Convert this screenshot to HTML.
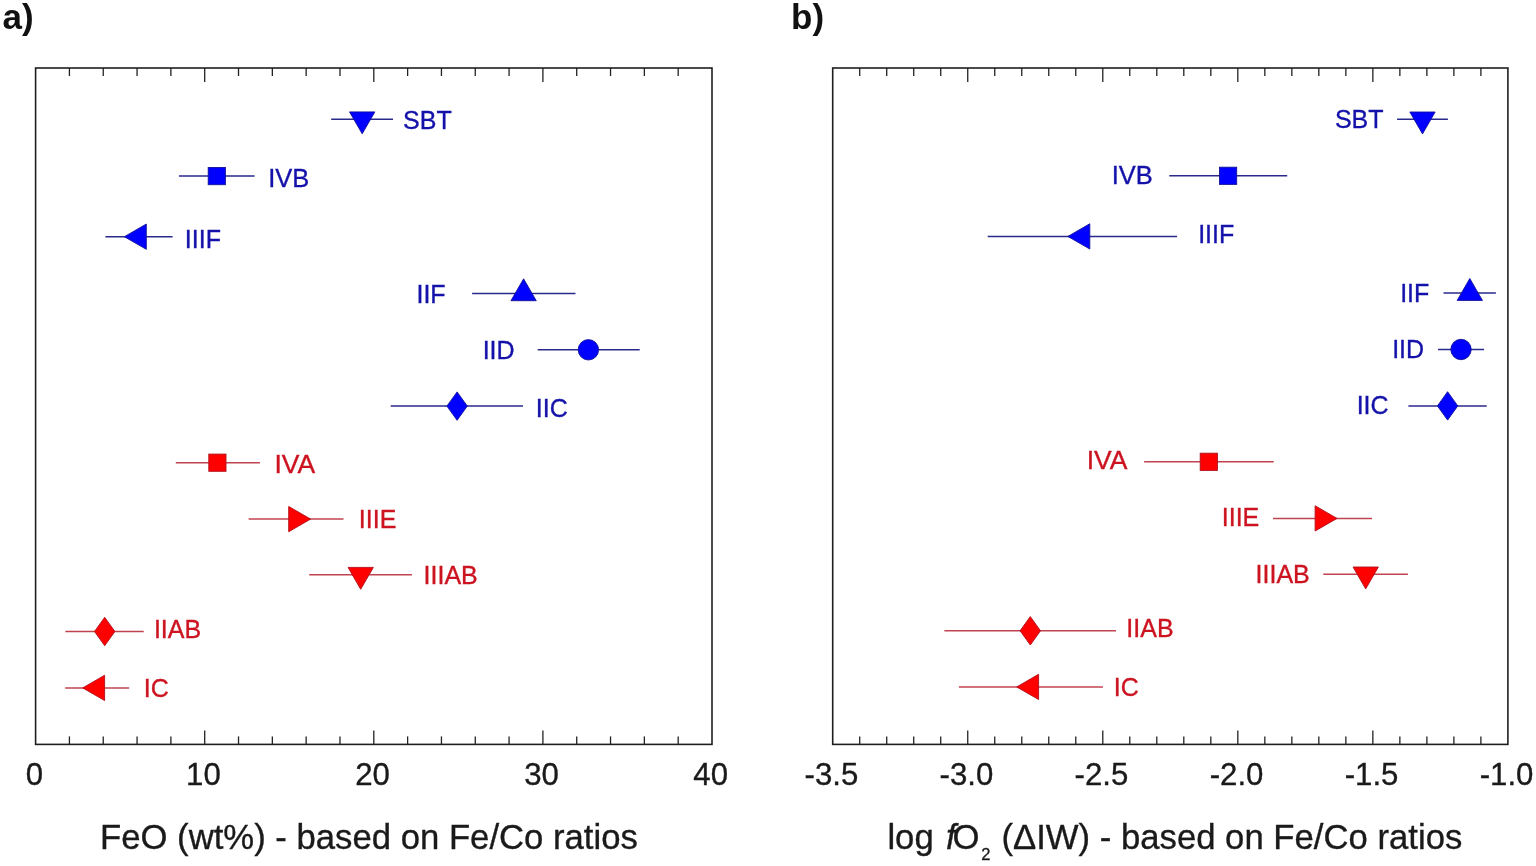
<!DOCTYPE html>
<html><head><meta charset="utf-8"><title>FeO and log fO2 based on Fe/Co ratios</title>
<style>
html,body{margin:0;padding:0;background:#fff;}
body{width:1536px;height:866px;overflow:hidden;}
svg{display:block;}
text{font-family:"Liberation Sans",Arial,Helvetica,sans-serif;}
.lb{font-size:25px;stroke-width:0.35px;}
.tk{font-size:31.2px;fill:#1a1a1a;stroke:#1a1a1a;stroke-width:0.35px;text-anchor:middle;}
.ti{font-size:34.7px;fill:#1a1a1a;stroke:#1a1a1a;stroke-width:0.35px;text-anchor:middle;}
.tl{font-size:34.7px;fill:#1a1a1a;stroke:#1a1a1a;stroke-width:0.35px;}
.sub{font-size:16.5px;fill:#1a1a1a;stroke:#1a1a1a;stroke-width:0.3px;}
.pl{font-size:35px;font-weight:bold;fill:#111;}
</style></head><body>
<svg width="1536" height="866" viewBox="0 0 1536 866">
<g stroke="#222" stroke-width="1.3">
<rect x="35.6" y="68" width="676.4" height="676.4" fill="none" stroke="#1e1e1e" stroke-width="1.6"/>
<line x1="69.42" y1="68" x2="69.42" y2="76"/>
<line x1="69.42" y1="744.4" x2="69.42" y2="736.4"/>
<line x1="103.24" y1="68" x2="103.24" y2="76"/>
<line x1="103.24" y1="744.4" x2="103.24" y2="736.4"/>
<line x1="137.06" y1="68" x2="137.06" y2="76"/>
<line x1="137.06" y1="744.4" x2="137.06" y2="736.4"/>
<line x1="170.88" y1="68" x2="170.88" y2="76"/>
<line x1="170.88" y1="744.4" x2="170.88" y2="736.4"/>
<line x1="204.7" y1="68" x2="204.7" y2="82"/>
<line x1="204.7" y1="744.4" x2="204.7" y2="730.4"/>
<line x1="238.52" y1="68" x2="238.52" y2="76"/>
<line x1="238.52" y1="744.4" x2="238.52" y2="736.4"/>
<line x1="272.34" y1="68" x2="272.34" y2="76"/>
<line x1="272.34" y1="744.4" x2="272.34" y2="736.4"/>
<line x1="306.16" y1="68" x2="306.16" y2="76"/>
<line x1="306.16" y1="744.4" x2="306.16" y2="736.4"/>
<line x1="339.98" y1="68" x2="339.98" y2="76"/>
<line x1="339.98" y1="744.4" x2="339.98" y2="736.4"/>
<line x1="373.8" y1="68" x2="373.8" y2="82"/>
<line x1="373.8" y1="744.4" x2="373.8" y2="730.4"/>
<line x1="407.62" y1="68" x2="407.62" y2="76"/>
<line x1="407.62" y1="744.4" x2="407.62" y2="736.4"/>
<line x1="441.44" y1="68" x2="441.44" y2="76"/>
<line x1="441.44" y1="744.4" x2="441.44" y2="736.4"/>
<line x1="475.26" y1="68" x2="475.26" y2="76"/>
<line x1="475.26" y1="744.4" x2="475.26" y2="736.4"/>
<line x1="509.08" y1="68" x2="509.08" y2="76"/>
<line x1="509.08" y1="744.4" x2="509.08" y2="736.4"/>
<line x1="542.9" y1="68" x2="542.9" y2="82"/>
<line x1="542.9" y1="744.4" x2="542.9" y2="730.4"/>
<line x1="576.72" y1="68" x2="576.72" y2="76"/>
<line x1="576.72" y1="744.4" x2="576.72" y2="736.4"/>
<line x1="610.54" y1="68" x2="610.54" y2="76"/>
<line x1="610.54" y1="744.4" x2="610.54" y2="736.4"/>
<line x1="644.36" y1="68" x2="644.36" y2="76"/>
<line x1="644.36" y1="744.4" x2="644.36" y2="736.4"/>
<line x1="678.18" y1="68" x2="678.18" y2="76"/>
<line x1="678.18" y1="744.4" x2="678.18" y2="736.4"/>
<text transform="translate(34.3 785.3)" class="tk">0</text>
<text transform="translate(203.4 785.3)" class="tk">10</text>
<text transform="translate(372.5 785.3)" class="tk">20</text>
<text transform="translate(541.6 785.3)" class="tk">30</text>
<text transform="translate(710.7 785.3)" class="tk">40</text>
<rect x="832.7" y="68" width="675.2" height="676.4" fill="none" stroke="#1e1e1e" stroke-width="1.6"/>
<line x1="859.71" y1="68" x2="859.71" y2="76"/>
<line x1="859.71" y1="744.4" x2="859.71" y2="736.4"/>
<line x1="886.72" y1="68" x2="886.72" y2="76"/>
<line x1="886.72" y1="744.4" x2="886.72" y2="736.4"/>
<line x1="913.72" y1="68" x2="913.72" y2="76"/>
<line x1="913.72" y1="744.4" x2="913.72" y2="736.4"/>
<line x1="940.73" y1="68" x2="940.73" y2="76"/>
<line x1="940.73" y1="744.4" x2="940.73" y2="736.4"/>
<line x1="967.74" y1="68" x2="967.74" y2="82"/>
<line x1="967.74" y1="744.4" x2="967.74" y2="730.4"/>
<line x1="994.75" y1="68" x2="994.75" y2="76"/>
<line x1="994.75" y1="744.4" x2="994.75" y2="736.4"/>
<line x1="1021.76" y1="68" x2="1021.76" y2="76"/>
<line x1="1021.76" y1="744.4" x2="1021.76" y2="736.4"/>
<line x1="1048.76" y1="68" x2="1048.76" y2="76"/>
<line x1="1048.76" y1="744.4" x2="1048.76" y2="736.4"/>
<line x1="1075.77" y1="68" x2="1075.77" y2="76"/>
<line x1="1075.77" y1="744.4" x2="1075.77" y2="736.4"/>
<line x1="1102.78" y1="68" x2="1102.78" y2="82"/>
<line x1="1102.78" y1="744.4" x2="1102.78" y2="730.4"/>
<line x1="1129.79" y1="68" x2="1129.79" y2="76"/>
<line x1="1129.79" y1="744.4" x2="1129.79" y2="736.4"/>
<line x1="1156.8" y1="68" x2="1156.8" y2="76"/>
<line x1="1156.8" y1="744.4" x2="1156.8" y2="736.4"/>
<line x1="1183.8" y1="68" x2="1183.8" y2="76"/>
<line x1="1183.8" y1="744.4" x2="1183.8" y2="736.4"/>
<line x1="1210.81" y1="68" x2="1210.81" y2="76"/>
<line x1="1210.81" y1="744.4" x2="1210.81" y2="736.4"/>
<line x1="1237.82" y1="68" x2="1237.82" y2="82"/>
<line x1="1237.82" y1="744.4" x2="1237.82" y2="730.4"/>
<line x1="1264.83" y1="68" x2="1264.83" y2="76"/>
<line x1="1264.83" y1="744.4" x2="1264.83" y2="736.4"/>
<line x1="1291.84" y1="68" x2="1291.84" y2="76"/>
<line x1="1291.84" y1="744.4" x2="1291.84" y2="736.4"/>
<line x1="1318.84" y1="68" x2="1318.84" y2="76"/>
<line x1="1318.84" y1="744.4" x2="1318.84" y2="736.4"/>
<line x1="1345.85" y1="68" x2="1345.85" y2="76"/>
<line x1="1345.85" y1="744.4" x2="1345.85" y2="736.4"/>
<line x1="1372.86" y1="68" x2="1372.86" y2="82"/>
<line x1="1372.86" y1="744.4" x2="1372.86" y2="730.4"/>
<line x1="1399.87" y1="68" x2="1399.87" y2="76"/>
<line x1="1399.87" y1="744.4" x2="1399.87" y2="736.4"/>
<line x1="1426.88" y1="68" x2="1426.88" y2="76"/>
<line x1="1426.88" y1="744.4" x2="1426.88" y2="736.4"/>
<line x1="1453.88" y1="68" x2="1453.88" y2="76"/>
<line x1="1453.88" y1="744.4" x2="1453.88" y2="736.4"/>
<line x1="1480.89" y1="68" x2="1480.89" y2="76"/>
<line x1="1480.89" y1="744.4" x2="1480.89" y2="736.4"/>
<text transform="translate(831.4 785.3)" class="tk">-3.5</text>
<text transform="translate(966.44 785.3)" class="tk">-3.0</text>
<text transform="translate(1101.48 785.3)" class="tk">-2.5</text>
<text transform="translate(1236.52 785.3)" class="tk">-2.0</text>
<text transform="translate(1371.56 785.3)" class="tk">-1.5</text>
<text transform="translate(1506.6 785.3)" class="tk">-1.0</text>
</g>
<line x1="331.2" y1="119.2" x2="393" y2="119.2" stroke="#2a2a8c" stroke-width="1.5"/>
<polygon points="349.55,111.9 374.85,111.9 362.2,133.81" fill="#0000ff" stroke="#12129a" stroke-width="0.9"/>
<text x="403.05" y="129.2" fill="#1512aa" stroke="#1512aa" class="lb">SBT</text>
<line x1="178.9" y1="176.1" x2="254.6" y2="176.1" stroke="#2a2a8c" stroke-width="1.5"/>
<rect x="208.2" y="167.5" width="17.2" height="17.2" fill="#0000ff" stroke="#12129a" stroke-width="0.9"/>
<text transform="translate(268.15 186.8) scale(1.02 1)" fill="#1512aa" stroke="#1512aa" class="lb">IVB</text>
<line x1="105.4" y1="236.7" x2="172.6" y2="236.7" stroke="#2a2a8c" stroke-width="1.5"/>
<polygon points="146.3,224.05 146.3,249.35 124.39,236.7" fill="#0000ff" stroke="#12129a" stroke-width="0.9"/>
<text x="184.85" y="247.8" fill="#1512aa" stroke="#1512aa" class="lb">IIIF</text>
<line x1="472.1" y1="293.4" x2="575.5" y2="293.4" stroke="#2a2a8c" stroke-width="1.5"/>
<polygon points="510.95,300.7 536.25,300.7 523.6,278.79" fill="#0000ff" stroke="#12129a" stroke-width="0.9"/>
<text x="416.45" y="302.8" fill="#1512aa" stroke="#1512aa" class="lb">IIF</text>
<line x1="537.7" y1="349.8" x2="639.7" y2="349.8" stroke="#2a2a8c" stroke-width="1.5"/>
<circle cx="588.4" cy="349.8" r="10.2" fill="#0000ff" stroke="#12129a" stroke-width="0.9"/>
<text x="482.65" y="359.4" fill="#1512aa" stroke="#1512aa" class="lb">IID</text>
<line x1="390.7" y1="406.1" x2="523" y2="406.1" stroke="#2a2a8c" stroke-width="1.5"/>
<polygon points="446.9,406.1 457.1,391.9 467.3,406.1 457.1,420.3" fill="#0000ff" stroke="#12129a" stroke-width="0.9"/>
<text x="535.86" y="417.3" fill="#1512aa" stroke="#1512aa" class="lb">IIC</text>
<line x1="175.8" y1="462.7" x2="259.9" y2="462.7" stroke="#c04450" stroke-width="1.5"/>
<rect x="208.8" y="454.1" width="17.2" height="17.2" fill="#ff0000" stroke="#b0101c" stroke-width="0.9"/>
<text transform="translate(274.45 473) scale(1.06 1)" fill="#cc1420" stroke="#cc1420" class="lb">IVA</text>
<line x1="248.6" y1="519.1" x2="343.5" y2="519.1" stroke="#c04450" stroke-width="1.5"/>
<polygon points="288.7,506.45 288.7,531.75 310.61,519.1" fill="#ff0000" stroke="#b0101c" stroke-width="0.9"/>
<text x="358.85" y="527.8" fill="#cc1420" stroke="#cc1420" class="lb">IIIE</text>
<line x1="309.2" y1="574.7" x2="411.9" y2="574.7" stroke="#c04450" stroke-width="1.5"/>
<polygon points="348.05,567.4 373.35,567.4 360.7,589.31" fill="#ff0000" stroke="#b0101c" stroke-width="0.9"/>
<text x="423.55" y="584" fill="#cc1420" stroke="#cc1420" class="lb">IIIAB</text>
<line x1="65.4" y1="631.5" x2="143.75" y2="631.5" stroke="#c04450" stroke-width="1.5"/>
<polygon points="94.5,631.5 104.7,617.3 114.9,631.5 104.7,645.7" fill="#ff0000" stroke="#b0101c" stroke-width="0.9"/>
<text x="153.91" y="638.2" fill="#cc1420" stroke="#cc1420" class="lb">IIAB</text>
<line x1="65.2" y1="687.9" x2="129.2" y2="687.9" stroke="#c04450" stroke-width="1.5"/>
<polygon points="104.6,675.25 104.6,700.55 82.69,687.9" fill="#ff0000" stroke="#b0101c" stroke-width="0.9"/>
<text x="143.75" y="696.5" fill="#cc1420" stroke="#cc1420" class="lb">IC</text>
<line x1="1397.1" y1="119.3" x2="1447.9" y2="119.3" stroke="#2a2a8c" stroke-width="1.5"/>
<polygon points="1409.85,112 1435.15,112 1422.5,133.91" fill="#0000ff" stroke="#12129a" stroke-width="0.9"/>
<text x="1334.95" y="128.4" fill="#1512aa" stroke="#1512aa" class="lb">SBT</text>
<line x1="1169.3" y1="175.8" x2="1287.2" y2="175.8" stroke="#2a2a8c" stroke-width="1.5"/>
<rect x="1219.5" y="167.2" width="17.2" height="17.2" fill="#0000ff" stroke="#12129a" stroke-width="0.9"/>
<text transform="translate(1111.75 183.9) scale(1.02 1)" fill="#1512aa" stroke="#1512aa" class="lb">IVB</text>
<line x1="987.7" y1="236.4" x2="1177.1" y2="236.4" stroke="#2a2a8c" stroke-width="1.5"/>
<polygon points="1089.8,223.75 1089.8,249.05 1067.89,236.4" fill="#0000ff" stroke="#12129a" stroke-width="0.9"/>
<text x="1198.15" y="242.9" fill="#1512aa" stroke="#1512aa" class="lb">IIIF</text>
<line x1="1443.5" y1="293.1" x2="1495.9" y2="293.1" stroke="#2a2a8c" stroke-width="1.5"/>
<polygon points="1457.15,300.4 1482.45,300.4 1469.8,278.49" fill="#0000ff" stroke="#12129a" stroke-width="0.9"/>
<text x="1400.15" y="302.2" fill="#1512aa" stroke="#1512aa" class="lb">IIF</text>
<line x1="1438" y1="349.5" x2="1484.1" y2="349.5" stroke="#2a2a8c" stroke-width="1.5"/>
<circle cx="1461" cy="349.5" r="10.2" fill="#0000ff" stroke="#12129a" stroke-width="0.9"/>
<text x="1392.15" y="358.3" fill="#1512aa" stroke="#1512aa" class="lb">IID</text>
<line x1="1408.4" y1="405.9" x2="1486.7" y2="405.9" stroke="#2a2a8c" stroke-width="1.5"/>
<polygon points="1437.4,405.9 1447.6,391.7 1457.8,405.9 1447.6,420.1" fill="#0000ff" stroke="#12129a" stroke-width="0.9"/>
<text x="1356.65" y="414.4" fill="#1512aa" stroke="#1512aa" class="lb">IIC</text>
<line x1="1144.1" y1="461.8" x2="1273.75" y2="461.8" stroke="#c04450" stroke-width="1.5"/>
<rect x="1200.2" y="453.2" width="17.2" height="17.2" fill="#ff0000" stroke="#b0101c" stroke-width="0.9"/>
<text transform="translate(1086.75 469.3) scale(1.06 1)" fill="#cc1420" stroke="#cc1420" class="lb">IVA</text>
<line x1="1273" y1="518.4" x2="1372" y2="518.4" stroke="#c04450" stroke-width="1.5"/>
<polygon points="1315.1,505.75 1315.1,531.05 1337.01,518.4" fill="#ff0000" stroke="#b0101c" stroke-width="0.9"/>
<text x="1221.75" y="526.4" fill="#cc1420" stroke="#cc1420" class="lb">IIIE</text>
<line x1="1323.3" y1="574.3" x2="1407.9" y2="574.3" stroke="#c04450" stroke-width="1.5"/>
<polygon points="1353.05,567 1378.35,567 1365.7,588.91" fill="#ff0000" stroke="#b0101c" stroke-width="0.9"/>
<text x="1255.56" y="583.4" fill="#cc1420" stroke="#cc1420" class="lb">IIIAB</text>
<line x1="944.4" y1="630.8" x2="1116" y2="630.8" stroke="#c04450" stroke-width="1.5"/>
<polygon points="1020.1,630.8 1030.3,616.6 1040.5,630.8 1030.3,645" fill="#ff0000" stroke="#b0101c" stroke-width="0.9"/>
<text x="1126.36" y="637.3" fill="#cc1420" stroke="#cc1420" class="lb">IIAB</text>
<line x1="958.9" y1="686.9" x2="1102.9" y2="686.9" stroke="#c04450" stroke-width="1.5"/>
<polygon points="1038.6,674.25 1038.6,699.55 1016.69,686.9" fill="#ff0000" stroke="#b0101c" stroke-width="0.9"/>
<text x="1113.86" y="696.2" fill="#cc1420" stroke="#cc1420" class="lb">IC</text>
<text x="2.6" y="28.7" class="pl">a)</text>
<text x="791" y="28.7" class="pl">b)</text>
<text transform="translate(368.9 848.5)" class="ti">FeO (wt%) - based on Fe/Co ratios</text>
<text transform="translate(887.4 848.5)" class="tl">log</text>
<text transform="translate(946 848.5)" class="tl" font-style="italic">f</text>
<text transform="translate(952.5 848.5)" class="tl">O</text>
<text transform="translate(1001.5 848.5)" class="tl">(ΔIW) - based on Fe/Co ratios</text>
<text x="981.3" y="860" class="sub">2</text>
</svg>
</body></html>
